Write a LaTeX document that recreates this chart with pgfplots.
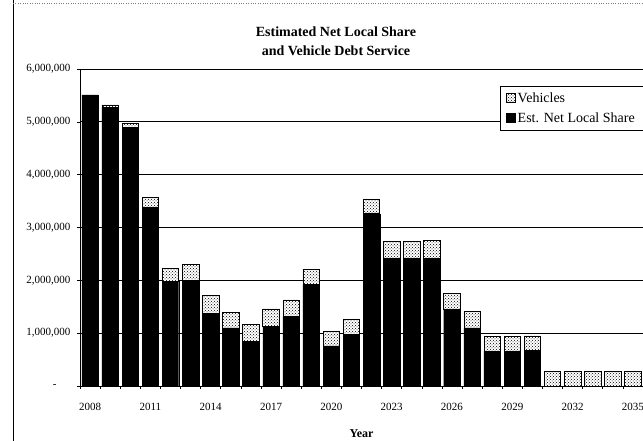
\documentclass[border=0pt]{standalone}
\usepackage{fontspec}
\setmainfont{Liberation Serif}
\usepackage{pgfplots}
\pgfplotsset{compat=1.18}
\usepackage{pgfplotstable}
\usetikzlibrary{patterns}
\pgfplotstableread{
year local vehicles
2008 5510000 0
2009 5280000 40000
2010 4900000 70000
2011 3380000 190000
2012 1980000 250000
2013 2000000 300000
2014 1380000 330000
2015 1100000 300000
2016 850000 310000
2017 1130000 330000
2018 1320000 310000
2019 1920000 290000
2020 760000 280000
2021 980000 290000
2022 3260000 280000
2023 2410000 330000
2024 2410000 330000
2025 2420000 330000
2026 1450000 310000
2027 1100000 310000
2028 660000 280000
2029 660000 280000
2030 670000 280000
2031 0 270000
2032 0 270000
2033 0 270000
2034 0 270000
2035 0 270000
}\datatable
\begin{document}
\begin{tikzpicture}
\useasboundingbox (-80pt,-55pt) rectangle (563pt,386pt);
\clip (-80pt,-55pt) rectangle (563pt,386pt);
\fill[white] (-80pt,-55pt) rectangle (563pt,386pt);
\draw[black, line width=0.8pt] (-67pt,-55pt) -- (-67pt,386pt);
\draw[gray, dotted] (-67pt,383pt) -- (563pt,383pt);
\begin{axis}[
  at={(0,0)}, anchor=south west,
  scale only axis, width=563pt, height=317pt,
  ybar stacked, bar width=0.82,
  xmin=2007.5, xmax=2035.5, ymin=0, ymax=6000000,
  axis lines*=left,
  axis line style={black, line width=0.8pt},
  ymajorgrids, grid style={black, line width=0.7pt},
  ytick={0,1000000,2000000,3000000,4000000,5000000,6000000},
  yticklabels={{-\hspace*{14pt}},{1,000,000},{2,000,000},{3,000,000},{4,000,000},{5,000,000},{6,000,000}},
  scaled y ticks=false,
  xtick={2008,2011,2014,2017,2020,2023,2026,2029,2032,2035},
  xticklabels={2008,2011,2014,2017,2020,2023,2026,2029,2032,2035},
  minor xtick={2007.5,2008.5,...,2035.5},
  tick align=outside,
  major x tick style={draw=none},
  minor x tick style={black, line width=0.6pt},
  major y tick style={black, line width=0.6pt},
  major tick length=3pt, minor tick length=3pt,
  tick label style={font=\fontsize{11}{13}\selectfont},
  xticklabel style={yshift=-11pt},
  yticklabel style={xshift=-3pt},
  xlabel={\textbf{Year}},
  xlabel style={font=\fontsize{12}{14}\selectfont, yshift=-12pt},
  legend style={at={(1,0.946)}, anchor=north east, draw=black, line width=0.5pt,
    font=\fontsize{14}{16}\selectfont, row sep=5pt, inner xsep=6pt, inner ysep=4pt},
  legend cell align=left,
  reverse legend,
  legend image code/.code={\draw[#1] (0pt,-4.5pt) rectangle (9pt,4.5pt);},
]
\addplot[fill=black, draw=black] table[x=year, y=local] {\datatable};
\addlegendentry{Est. Net Local Share}
\addplot[fill=white, draw=black, line width=0.6pt, postaction={pattern=crosshatch dots}] table[x=year, y=vehicles] {\datatable};
\addlegendentry{Vehicles}
\end{axis}
\node[font=\fontsize{14}{19}\selectfont\bfseries, align=center] at (256pt,345pt) {Estimated Net Local Share\\and Vehicle Debt Service};
\end{tikzpicture}
\end{document}
